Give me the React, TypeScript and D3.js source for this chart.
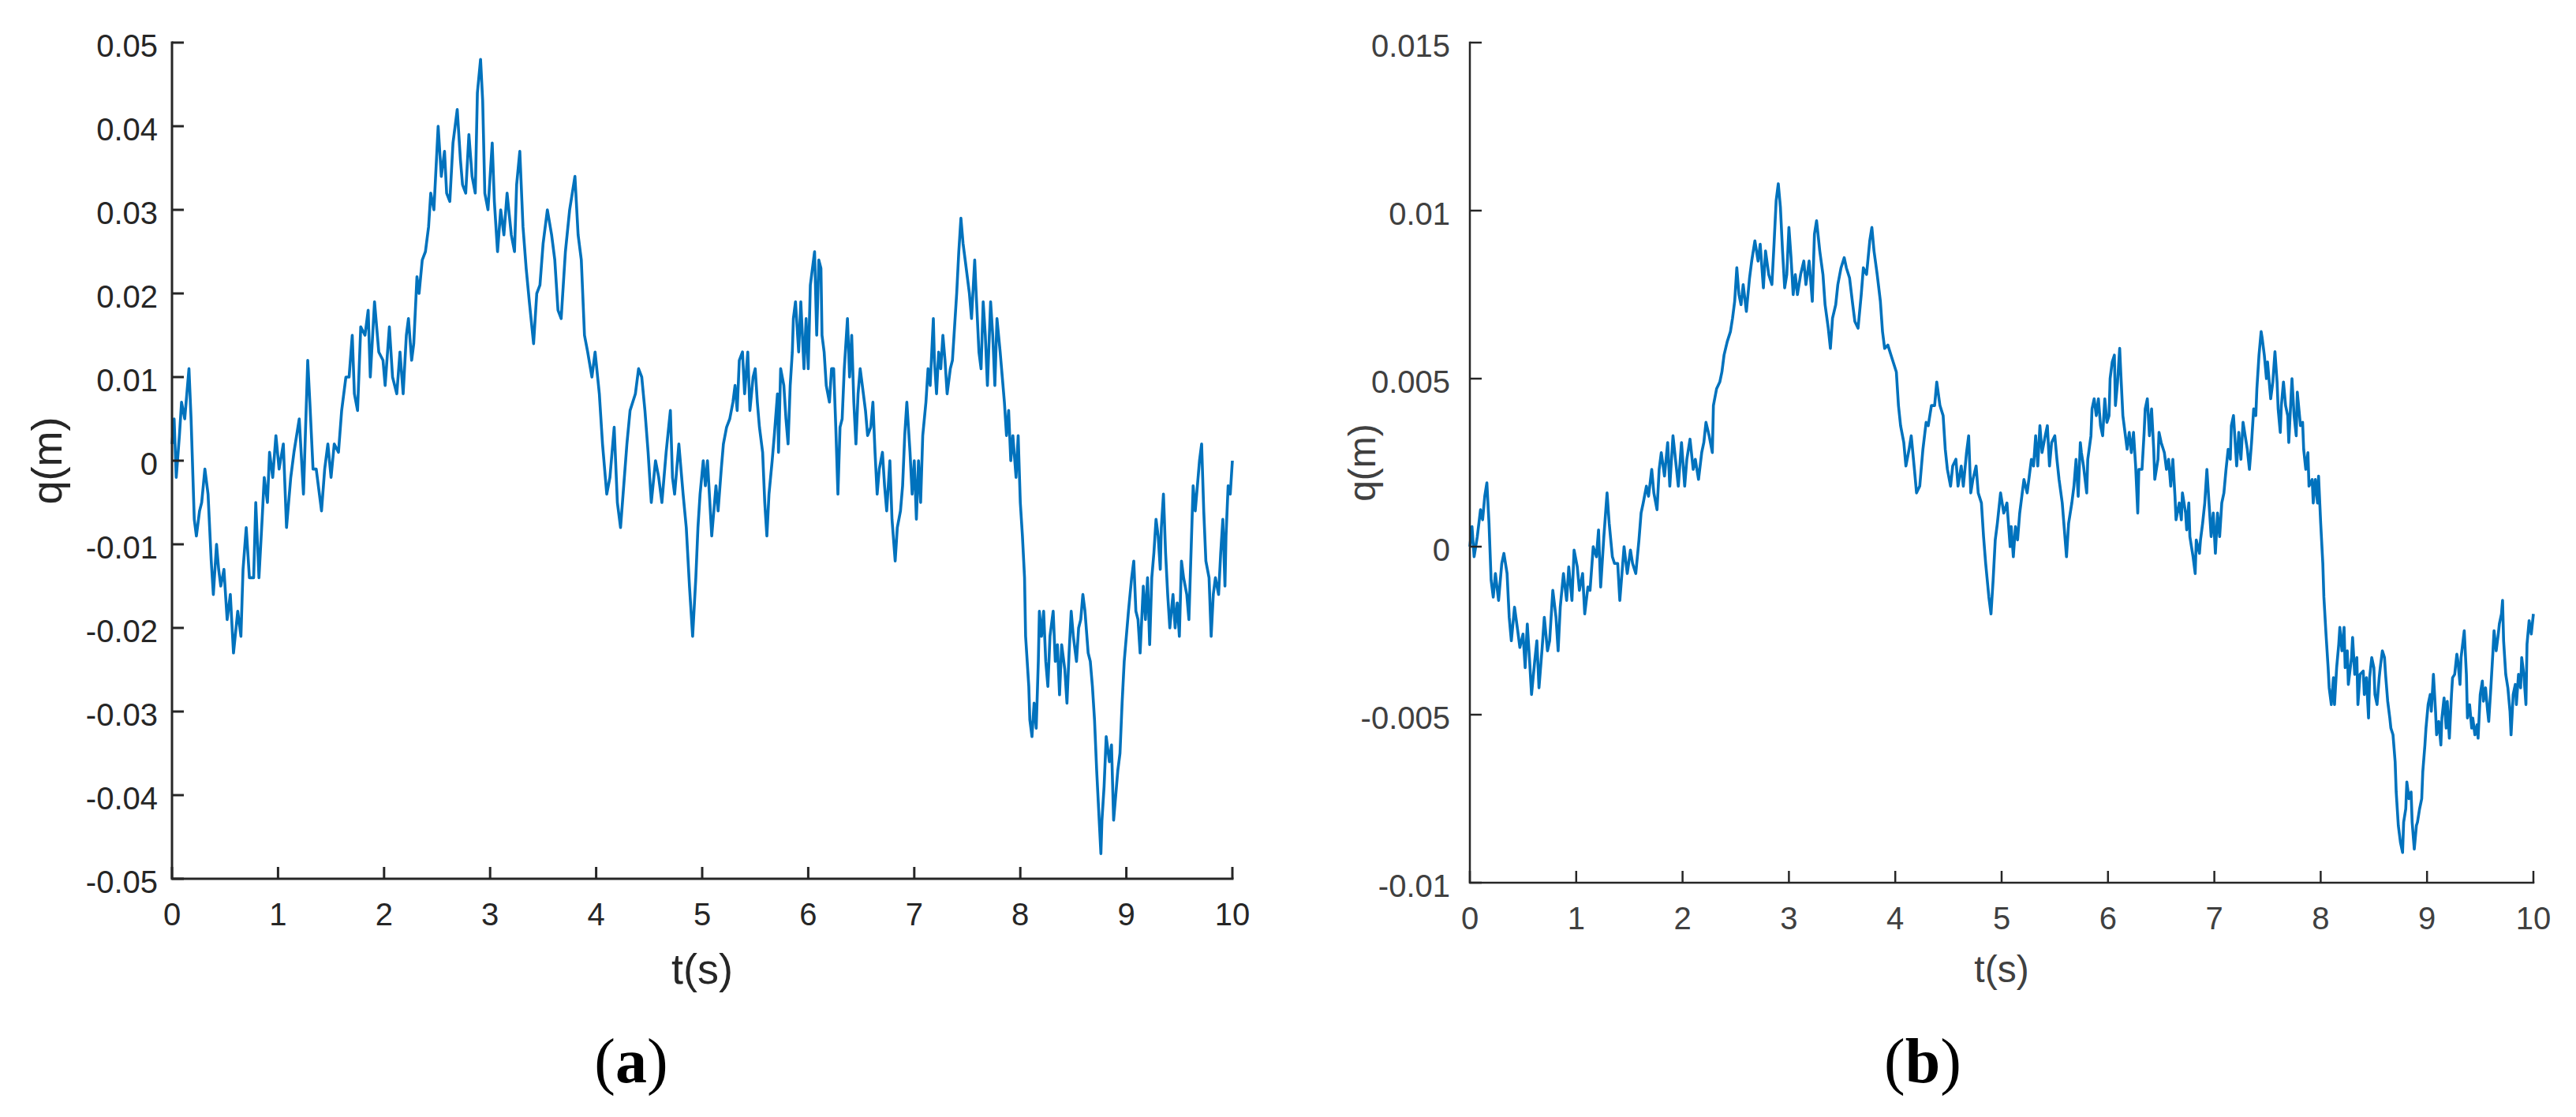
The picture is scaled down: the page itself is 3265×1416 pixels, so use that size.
import React, { useEffect, useRef } from 'react';
import * as d3 from 'd3';

const WIDTH = 3265;
const HEIGHT = 1416;
const LINE_COLOR = '#0072BD';

const timeTicks = [0, 1, 2, 3, 4, 5, 6, 7, 8, 9, 10];

// panel (a): t in s, q in mm
const tA = [
  0.00, 0.02, 0.04, 0.07, 0.09, 0.12, 0.16, 0.18, 0.21, 0.23, 0.26, 0.28, 0.31, 0.34, 0.37, 0.39, 0.42, 0.44, 0.46, 0.49,
  0.52, 0.55, 0.58, 0.62, 0.65, 0.67, 0.70, 0.73, 0.77, 0.79, 0.82, 0.85, 0.87, 0.90, 0.92, 0.95, 0.98, 1.01, 1.05, 1.08,
  1.12, 1.15, 1.20, 1.24, 1.28, 1.30, 1.33, 1.36, 1.41, 1.44, 1.47, 1.50, 1.53, 1.57, 1.60, 1.64, 1.67, 1.70, 1.72, 1.75,
  1.78, 1.82, 1.85, 1.87, 1.91, 1.95, 1.99, 2.01, 2.05, 2.08, 2.12, 2.15, 2.18, 2.21, 2.23, 2.26, 2.28, 2.31, 2.33, 2.36,
  2.39, 2.42, 2.44, 2.47, 2.49, 2.51, 2.54, 2.57, 2.59, 2.62, 2.65, 2.69, 2.72, 2.74, 2.77, 2.80, 2.83, 2.86, 2.88, 2.91,
  2.93, 2.95, 2.98, 3.02, 3.04, 3.07, 3.10, 3.13, 3.16, 3.20, 3.23, 3.25, 3.28, 3.31, 3.34, 3.37, 3.41, 3.44, 3.47, 3.50,
  3.54, 3.58, 3.61, 3.64, 3.67, 3.71, 3.75, 3.80, 3.83, 3.86, 3.89, 3.92, 3.96, 3.99, 4.03, 4.06, 4.10, 4.13, 4.17, 4.20,
  4.23, 4.26, 4.29, 4.32, 4.37, 4.40, 4.43, 4.46, 4.49, 4.52, 4.56, 4.59, 4.62, 4.66, 4.70, 4.72, 4.74, 4.78, 4.82, 4.85,
  4.88, 4.91, 4.94, 4.96, 4.98, 5.01, 5.03, 5.05, 5.09, 5.11, 5.13, 5.15, 5.18, 5.20, 5.23, 5.26, 5.29, 5.31, 5.33, 5.35,
  5.38, 5.40, 5.43, 5.45, 5.48, 5.50, 5.52, 5.54, 5.57, 5.59, 5.61, 5.63, 5.66, 5.68, 5.71, 5.72, 5.74, 5.77, 5.79, 5.81,
  5.83, 5.85, 5.86, 5.88, 5.91, 5.93, 5.96, 5.98, 6.00, 6.02, 6.05, 6.06, 6.08, 6.10, 6.12, 6.13, 6.15, 6.17, 6.20, 6.22,
  6.24, 6.26, 6.28, 6.30, 6.32, 6.34, 6.37, 6.39, 6.41, 6.43, 6.45, 6.47, 6.49, 6.51, 6.54, 6.56, 6.59, 6.61, 6.63, 6.65,
  6.67, 6.70, 6.72, 6.74, 6.77, 6.79, 6.82, 6.84, 6.87, 6.89, 6.91, 6.93, 6.96, 6.98, 7.00, 7.02, 7.04, 7.06, 7.08, 7.11,
  7.13, 7.15, 7.18, 7.19, 7.21, 7.23, 7.25, 7.27, 7.29, 7.31, 7.34, 7.36, 7.38, 7.40, 7.42, 7.44, 7.46, 7.48, 7.50, 7.52,
  7.54, 7.57, 7.58, 7.61, 7.63, 7.65, 7.67, 7.69, 7.72, 7.74, 7.76, 7.78, 7.81, 7.83, 7.85, 7.87, 7.89, 7.91, 7.93, 7.96,
  7.98, 8.00, 8.02, 8.04, 8.05, 8.08, 8.09, 8.11, 8.13, 8.15, 8.17, 8.18, 8.20, 8.22, 8.24, 8.26, 8.28, 8.31, 8.33, 8.35,
  8.37, 8.39, 8.42, 8.44, 8.46, 8.48, 8.50, 8.53, 8.55, 8.57, 8.59, 8.61, 8.64, 8.66, 8.68, 8.70, 8.72, 8.74, 8.76, 8.77,
  8.79, 8.81, 8.84, 8.86, 8.88, 8.90, 8.92, 8.94, 8.96, 8.98, 9.00, 9.02, 9.05, 9.07, 9.09, 9.11, 9.13, 9.16, 9.18, 9.20,
  9.22, 9.24, 9.26, 9.28, 9.30, 9.32, 9.33, 9.35, 9.37, 9.39, 9.41, 9.44, 9.46, 9.48, 9.50, 9.52, 9.54, 9.57, 9.59, 9.61,
  9.63, 9.65, 9.67, 9.69, 9.71, 9.73, 9.75, 9.78, 9.80, 9.82, 9.84, 9.87, 9.89, 9.91, 9.93, 9.94, 9.96, 9.98, 10.00
];
const qA = [
  2, 5, -2, 3, 7, 5, 11, 5, -7, -9, -6, -5, -1, -4, -12, -16, -10, -13, -15, -13,
  -19, -16, -23, -18, -21, -13, -8, -14, -14, -5, -14, -7, -2, -5, 1, -2, 3, -1, 2, -8,
  -2, 1, 5, -4, 12, 7, -1, -1, -6, -1, 2, -2, 2, 1, 6, 10, 10, 15, 8, 6,
  16, 15, 18, 10, 19, 13, 12, 9, 16, 10, 8, 13, 8, 15, 17, 12, 14, 22, 20, 24,
  25, 28, 32, 30, 35, 40, 34, 37, 32, 31, 38, 42, 36, 33, 32, 39, 34, 32, 44, 48,
  43, 32, 30, 38, 31, 25, 30, 27, 32, 27, 25, 33, 37, 28, 23, 19, 14, 20, 21, 26,
  30, 27, 24, 18, 17, 25, 30, 34, 27, 24, 15, 13, 10, 13, 8, 2, -4, -2, 4, -5,
  -8, -3, 2, 6, 8, 11, 10, 6, 1, -5, 0, -2, -5, 1, 6, -2, -4, 2, -4, -8,
  -15, -21, -14, -8, -4, 0, -3, 0, -9, -6, -3, -6, -1, 2, 4, 5, 7, 9, 6, 12,
  13, 8, 13, 6, 10, 11, 7, 4, 1, -5, -9, -4, 0, 3, 8, 1, 11, 9, 5, 2,
  9, 13, 17, 19, 13, 19, 11, 17, 11, 21, 24, 25, 15, 24, 23, 15, 13, 9, 7, 11,
  11, 4, -4, 4, 5, 11, 17, 10, 15, 7, 2, 8, 11, 9, 6, 3, 4, 7, 1, -4,
  -1, 1, -3, -6, 0, -7, -12, -8, -6, -3, 3, 7, 1, -4, 0, -7, 0, -5, 3, 7,
  11, 9, 17, 12, 8, 13, 11, 15, 12, 8, 11, 12, 16, 20, 25, 29, 26, 24, 22, 20,
  17, 24, 21, 13, 11, 19, 15, 9, 19, 15, 9, 17, 13, 10, 7, 3, 6, 0, 3, -2,
  3, -5, -9, -14, -21, -27, -31, -33, -29, -32, -24, -18, -21, -18, -24, -27, -21, -18, -24, -22,
  -28, -22, -25, -29, -23, -18, -21, -24, -20, -19, -16, -18, -23, -24, -27, -31, -37, -42, -47, -43,
  -39, -33, -36, -34, -43, -40, -37, -35, -29, -24, -21, -18, -14, -12, -18, -19, -23, -15, -19, -14,
  -22, -14, -11, -7, -9, -13, -8, -4, -11, -16, -20, -16, -20, -17, -21, -12, -14, -16, -19, -11,
  -3, -6, -3, 0, 2, -6, -12, -14, -21, -16, -14, -16, -11, -7, -15, -9, -3, -4, 0
];
const yTicksA = [-0.05, -0.04, -0.03, -0.02, -0.01, 0, 0.01, 0.02, 0.03, 0.04, 0.05];
const yLabelsA = ['-0.05', '-0.04', '-0.03', '-0.02', '-0.01', '0', '0.01', '0.02', '0.03', '0.04', '0.05'];

// panel (b): t in s, q in mm
const tB = [
  0.00, 0.02, 0.04, 0.07, 0.10, 0.12, 0.14, 0.16, 0.18, 0.20, 0.22, 0.24, 0.27, 0.30, 0.32, 0.35, 0.37, 0.39, 0.42, 0.45,
  0.47, 0.50, 0.52, 0.54, 0.56, 0.58, 0.61, 0.63, 0.65, 0.68, 0.70, 0.73, 0.75, 0.78, 0.81, 0.83, 0.85, 0.88, 0.91, 0.93,
  0.96, 0.98, 1.01, 1.03, 1.06, 1.08, 1.11, 1.13, 1.16, 1.19, 1.21, 1.23, 1.26, 1.29, 1.31, 1.34, 1.36, 1.39, 1.41, 1.43,
  1.45, 1.48, 1.51, 1.53, 1.56, 1.59, 1.61, 1.63, 1.66, 1.68, 1.71, 1.73, 1.76, 1.78, 1.80, 1.83, 1.86, 1.88, 1.91, 1.94,
  1.96, 1.99, 2.02, 2.04, 2.07, 2.10, 2.12, 2.15, 2.18, 2.20, 2.22, 2.25, 2.28, 2.29, 2.32, 2.35, 2.37, 2.39, 2.42, 2.45,
  2.47, 2.49, 2.51, 2.53, 2.55, 2.57, 2.60, 2.63, 2.65, 2.68, 2.71, 2.73, 2.76, 2.78, 2.81, 2.84, 2.86, 2.88, 2.90, 2.92,
  2.94, 2.96, 2.98, 3.00, 3.02, 3.04, 3.06, 3.08, 3.11, 3.14, 3.16, 3.19, 3.22, 3.24, 3.26, 3.29, 3.32, 3.34, 3.37, 3.39,
  3.41, 3.44, 3.46, 3.49, 3.52, 3.54, 3.57, 3.60, 3.62, 3.65, 3.68, 3.70, 3.73, 3.76, 3.78, 3.80, 3.83, 3.86, 3.88, 3.90,
  3.93, 3.96, 3.98, 4.01, 4.03, 4.05, 4.08, 4.10, 4.13, 4.15, 4.18, 4.20, 4.23, 4.26, 4.29, 4.31, 4.34, 4.37, 4.39, 4.42,
  4.45, 4.47, 4.49, 4.52, 4.54, 4.57, 4.59, 4.62, 4.64, 4.67, 4.69, 4.71, 4.73, 4.76, 4.78, 4.81, 4.83, 4.85, 4.88, 4.90,
  4.92, 4.94, 4.96, 4.99, 5.02, 5.05, 5.08, 5.09, 5.11, 5.13, 5.15, 5.17, 5.19, 5.21, 5.24, 5.26, 5.28, 5.30, 5.32, 5.34,
  5.36, 5.38, 5.41, 5.43, 5.45, 5.47, 5.50, 5.52, 5.54, 5.57, 5.59, 5.61, 5.63, 5.66, 5.68, 5.70, 5.72, 5.74, 5.75, 5.77,
  5.80, 5.81, 5.84, 5.85, 5.87, 5.89, 5.91, 5.93, 5.95, 5.97, 5.99, 6.01, 6.02, 6.04, 6.06, 6.07, 6.09, 6.11, 6.12, 6.14,
  6.16, 6.18, 6.20, 6.22, 6.24, 6.26, 6.28, 6.29, 6.32, 6.34, 6.35, 6.37, 6.39, 6.41, 6.43, 6.44, 6.47, 6.48, 6.50, 6.53,
  6.55, 6.57, 6.59, 6.61, 6.63, 6.64, 6.67, 6.69, 6.70, 6.73, 6.74, 6.76, 6.77, 6.80, 6.82, 6.83, 6.86, 6.87, 6.89, 6.91,
  6.93, 6.95, 6.97, 6.99, 7.01, 7.03, 7.05, 7.07, 7.09, 7.11, 7.13, 7.15, 7.16, 7.18, 7.20, 7.21, 7.23, 7.25, 7.27, 7.29,
  7.31, 7.33, 7.35, 7.37, 7.39, 7.40, 7.42, 7.44, 7.45, 7.47, 7.49, 7.50, 7.53, 7.55, 7.57, 7.59, 7.60, 7.62, 7.63, 7.65,
  7.67, 7.69, 7.70, 7.73, 7.75, 7.77, 7.78, 7.81, 7.83, 7.84, 7.86, 7.88, 7.89, 7.92, 7.93, 7.95, 7.97, 7.98, 8.00, 8.02,
  8.03, 8.05, 8.07, 8.08, 8.10, 8.12, 8.13, 8.15, 8.17, 8.18, 8.20, 8.22, 8.23, 8.25, 8.26, 8.29, 8.30, 8.32, 8.34, 8.35,
  8.37, 8.40, 8.41, 8.43, 8.45, 8.46, 8.48, 8.50, 8.51, 8.53, 8.55, 8.56, 8.58, 8.60, 8.61, 8.63, 8.65, 8.66, 8.68, 8.70,
  8.71, 8.73, 8.75, 8.77, 8.78, 8.80, 8.81, 8.83, 8.85, 8.86, 8.88, 8.90, 8.91, 8.93, 8.95, 8.96, 8.98, 8.99, 9.01, 9.03,
  9.04, 9.06, 9.08, 9.09, 9.11, 9.13, 9.14, 9.16, 9.18, 9.19, 9.21, 9.23, 9.24, 9.26, 9.28, 9.29, 9.31, 9.32, 9.35, 9.37,
  9.38, 9.40, 9.42, 9.43, 9.45, 9.47, 9.48, 9.50, 9.52, 9.53, 9.55, 9.57, 9.58, 9.60, 9.62, 9.63, 9.65, 9.67, 9.68, 9.70,
  9.71, 9.72, 9.74, 9.76, 9.78, 9.79, 9.81, 9.83, 9.84, 9.86, 9.88, 9.89, 9.91, 9.93, 9.94, 9.96, 9.98, 10.00
];
const qB = [
  0.0, 0.6, -0.3, 0.3, 1.1, 0.8, 1.5, 1.9, 0.7, -1.0, -1.5, -0.8, -1.6, -0.5, -0.2, -0.8, -2.1, -2.8, -1.8, -2.5,
  -3.0, -2.6, -3.6, -2.3, -3.3, -4.4, -3.4, -2.8, -4.2, -3.0, -2.1, -3.1, -2.8, -1.3, -2.1, -3.1, -1.8, -0.8, -1.6, -0.6,
  -1.6, -0.1, -0.6, -1.3, -0.8, -2.0, -1.2, -1.3, 0.0, -0.3, 0.5, -1.2, 0.3, 1.6, 0.7, -0.3, -0.5, -0.5, -1.6, -0.8,
  0.0, -0.8, -0.1, -0.5, -0.8, 0.2, 1.0, 1.3, 1.8, 1.5, 2.3, 1.6, 1.1, 2.3, 2.8, 2.1, 3.1, 1.8, 3.3, 2.4,
  1.8, 3.1, 1.8, 2.6, 3.2, 2.3, 2.6, 2.0, 2.8, 3.1, 3.7, 3.3, 2.8, 4.2, 4.7, 4.9, 5.2, 5.7, 6.1, 6.4,
  6.8, 7.3, 8.3, 7.5, 7.2, 7.8, 7.0, 8.0, 8.5, 9.1, 8.5, 9.0, 7.7, 8.8, 8.1, 7.8, 9.0, 10.3, 10.8, 10.1,
  8.8, 7.7, 8.1, 9.5, 8.6, 7.5, 8.1, 7.5, 8.1, 8.5, 7.8, 8.5, 7.3, 9.3, 9.7, 8.8, 8.1, 7.2, 6.5, 5.9,
  6.8, 7.2, 7.8, 8.3, 8.6, 8.3, 8.0, 7.2, 6.7, 6.5, 7.5, 8.3, 8.1, 9.1, 9.5, 8.8, 8.1, 7.3, 6.4, 5.9,
  6.0, 5.7, 5.5, 5.2, 4.2, 3.6, 3.1, 2.4, 2.9, 3.3, 2.3, 1.6, 1.8, 2.9, 3.7, 3.6, 4.2, 4.2, 4.9, 4.2,
  3.9, 2.9, 2.3, 1.8, 2.4, 2.6, 1.8, 2.4, 1.8, 2.8, 3.3, 1.6, 2.0, 2.4, 1.6, 1.3, 0.3, -0.5, -1.5, -2.0,
  -1.0, 0.2, 0.7, 1.6, 1.0, 1.3, 0.0, 0.6, -0.3, 0.6, 0.2, 1.0, 1.5, 2.0, 1.6, 2.1, 2.6, 2.4, 3.3, 2.4,
  3.6, 2.8, 3.3, 3.6, 2.4, 3.1, 3.3, 2.6, 2.0, 1.3, 0.5, -0.3, 0.7, 1.3, 1.8, 2.6, 1.5, 3.1, 2.8, 2.4,
  1.6, 2.6, 3.3, 4.1, 4.4, 3.9, 4.4, 3.6, 3.3, 4.4, 3.7, 3.9, 5.0, 5.5, 5.7, 4.2, 4.9, 5.9, 5.2, 3.9,
  3.4, 2.9, 3.4, 2.8, 3.4, 2.4, 1.0, 2.3, 2.3, 3.4, 4.1, 4.4, 3.3, 4.1, 2.9, 2.0, 2.6, 3.4, 3.1, 2.8,
  2.3, 2.6, 1.8, 2.6, 1.5, 0.8, 1.3, 0.8, 1.6, 1.0, 0.5, 1.3, 0.3, -0.3, -0.8, 0.2, -0.2, 0.2, 0.7, 1.3,
  2.3, 1.3, 0.3, 1.0, -0.2, 1.0, 0.3, 1.3, 1.6, 2.3, 2.9, 2.6, 3.6, 3.9, 2.9, 2.4, 3.4, 2.6, 3.7, 3.3,
  2.9, 2.3, 3.1, 4.1, 3.9, 4.7, 5.7, 6.4, 6.2, 5.7, 5.0, 5.5, 4.4, 4.9, 5.8, 4.9, 4.1, 3.4, 4.2, 4.9,
  4.2, 3.9, 3.1, 5.0, 3.9, 3.3, 4.6, 3.6, 3.7, 2.9, 2.3, 2.8, 1.8, 2.0, 1.3, 2.0, 1.3, 2.1, 0.7, -0.5,
  -1.5, -2.6, -3.6, -4.2, -4.7, -3.9, -4.7, -3.6, -2.9, -2.4, -3.1, -2.4, -3.6, -3.1, -4.1, -3.3, -2.7, -3.8, -3.3, -4.7,
  -3.8, -3.7, -4.4, -3.9, -5.1, -3.9, -3.3, -3.6, -4.4, -4.7, -3.9, -3.6, -3.1, -3.3, -3.8, -4.6, -5.1, -5.4, -5.6, -6.4,
  -7.3, -8.3, -8.8, -9.1, -8.2, -7.8, -7.0, -7.5, -7.3, -8.2, -9.0, -8.3, -8.2, -7.8, -7.5, -6.7, -5.9, -5.4, -4.7, -4.4,
  -4.9, -3.8, -4.9, -5.6, -5.2, -5.9, -5.1, -4.5, -5.4, -4.6, -5.7, -4.4, -3.9, -3.8, -3.2, -3.4, -4.1, -3.3, -2.5, -3.8,
  -5.1, -4.7, -5.4, -5.1, -5.6, -5.3, -5.7, -4.4, -4.0, -4.6, -4.2, -4.9, -5.2, -4.2, -3.1, -2.5, -3.1, -2.6, -2.3, -2.0,
  -1.6, -2.8, -3.8, -4.2, -4.9, -5.6, -4.4, -4.1, -4.7, -3.8, -4.2, -3.3, -3.8, -4.7, -2.9, -2.2, -2.6, -2.0
];
const yTicksB = [-0.01, -0.005, 0, 0.005, 0.01, 0.015];
const yLabelsB = ['-0.01', '-0.005', '0', '0.005', '0.01', '0.015'];

const SANS = '"Liberation Sans", Arial, Helvetica, sans-serif';
const SERIF = '"Liberation Serif", "Times New Roman", serif';

const panels = [
  {
    t: tA, q: qA, yTicks: yTicksA, yLabels: yLabelsA, yDomain: [-0.05, 0.05],
    left: 218, right: 1562, top: 54, bottom: 1114,
    axisWidth: 3, textColor: '#262626', tickFont: 40, labelFont: 54,
    yLabelGap: 18, yLabelX: 78, tLabelY: 1247,
    caption: 'a', captionX: 800,
  },
  {
    t: tB, q: qB, yTicks: yTicksB, yLabels: yLabelsB, yDomain: [-0.01, 0.015],
    left: 1863, right: 3211, top: 54, bottom: 1119,
    axisWidth: 2.5, textColor: '#404040', tickFont: 40, labelFont: 48,
    yLabelGap: 25, yLabelX: 1743, tLabelY: 1245,
    caption: 'b', captionX: 2437,
  },
];

const App = () => {
  const ref = useRef(null);

  useEffect(() => {
    const svg = d3.select(ref.current);
    svg.selectAll('*').remove();

    svg.append('rect').attr('width', WIDTH).attr('height', HEIGHT).attr('fill', '#ffffff');

    panels.forEach(p => {
      const x = d3.scaleLinear().domain([0, 10]).range([p.left, p.right]);
      const y = d3.scaleLinear().domain(p.yDomain).range([p.bottom, p.top]);
      const g = svg.append('g');

      // data line
      const line = d3.line()
        .x((_, i) => x(p.t[i]))
        .y(d => y(d / 1000));
      g.append('path')
        .datum(p.q)
        .attr('d', line)
        .attr('fill', 'none')
        .attr('stroke', LINE_COLOR)
        .attr('stroke-width', 3.6)
        .attr('stroke-linejoin', 'round');

      // axes (box off, ticks inward)
      g.append('path')
        .attr('d', `M${p.left},${p.top}V${p.bottom}H${p.right}`)
        .attr('fill', 'none')
        .attr('stroke', '#262626')
        .attr('stroke-width', p.axisWidth)
        .attr('stroke-linecap', 'square');

      g.selectAll('.ytick')
        .data(p.yTicks)
        .enter()
        .append('line')
        .attr('x1', p.left)
        .attr('x2', p.left + 15)
        .attr('y1', d => y(d))
        .attr('y2', d => y(d))
        .attr('stroke', '#262626')
        .attr('stroke-width', p.axisWidth);

      g.selectAll('.xtick')
        .data(timeTicks)
        .enter()
        .append('line')
        .attr('x1', d => x(d))
        .attr('x2', d => x(d))
        .attr('y1', p.bottom)
        .attr('y2', p.bottom - 15)
        .attr('stroke', '#262626')
        .attr('stroke-width', p.axisWidth);

      g.selectAll('.ylab')
        .data(p.yTicks)
        .enter()
        .append('text')
        .attr('x', p.left - p.yLabelGap)
        .attr('y', d => y(d) + 18)
        .attr('text-anchor', 'end')
        .style('font-family', SANS)
        .style('font-size', `${p.tickFont}px`)
        .style('fill', p.textColor)
        .text((_, i) => p.yLabels[i]);

      g.selectAll('.xlab')
        .data(timeTicks)
        .enter()
        .append('text')
        .attr('x', d => x(d))
        .attr('y', p.bottom + 59)
        .attr('text-anchor', 'middle')
        .style('font-family', SANS)
        .style('font-size', `${p.tickFont}px`)
        .style('fill', p.textColor)
        .text(d => String(d));

      g.append('text')
        .attr('x', (p.left + p.right) / 2)
        .attr('y', p.tLabelY)
        .attr('text-anchor', 'middle')
        .style('font-family', SANS)
        .style('font-size', `${p.labelFont}px`)
        .style('fill', p.textColor)
        .text('t(s)');

      g.append('text')
        .attr('transform', `translate(${p.yLabelX},${(p.top + p.bottom) / 2}) rotate(-90)`)
        .attr('text-anchor', 'middle')
        .style('font-family', SANS)
        .style('font-size', `${p.labelFont}px`)
        .style('fill', p.textColor)
        .text('q(m)');

      // subfigure caption
      const cap = g.append('text')
        .attr('x', p.captionX)
        .attr('y', 1372)
        .attr('text-anchor', 'middle')
        .style('font-family', SERIF)
        .style('font-size', '80px')
        .style('fill', '#000000');
      cap.append('tspan').text('(');
      cap.append('tspan').style('font-weight', 'bold').text(p.caption);
      cap.append('tspan').text(')');
    });
  }, []);

  return (
    <svg
      ref={ref}
      width={WIDTH}
      height={HEIGHT}
      viewBox={`0 0 ${WIDTH} ${HEIGHT}`}
      style={{ position: 'absolute', left: 0, top: 0, display: 'block' }}
    />
  );
};

export default App;
